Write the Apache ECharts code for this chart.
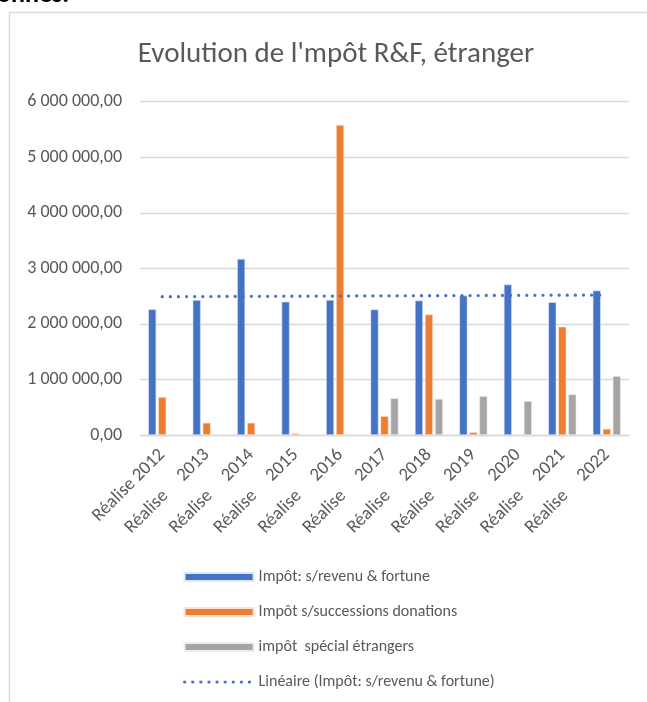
<!DOCTYPE html>
<html>
<head>
<meta charset="utf-8">
<script src="https://cdn.jsdelivr.net/npm/echarts@6/dist/echarts.min.js"></script>
<style>
html,body{margin:0;padding:0;background:#fff;}
#c{width:647px;height:702px;}
</style>
</head>
<body>
<div id="c"></div>
<script>
// ---- data ----
const categories = ['Réalise 2012','Réalise 2013','Réalise 2014','Réalise 2015','Réalise 2016','Réalise 2017','Réalise 2018','Réalise 2019','Réalise 2020','Réalise 2021','Réalise 2022'];
const seriesNames = ['Impôt: s/revenu & fortune','Impôt s/successions donations','impôt  spécial étrangers','Linéaire (Impôt: s/revenu & fortune)'];
const revenuFortune = [2263000, 2430000, 3170000, 2400000, 2430000, 2260000, 2420000, 2510000, 2710000, 2390000, 2600000];
const successionsDonations = [684000, 220000, 220000, 30000, 5580000, 340000, 2170000, 50000, 10000, 1950000, 110000];
const specialEtrangers = [null, null, null, null, null, 660000, 650000, 700000, 610000, 730000, 1060000];
const trendStart = 2490000;
const trendEnd = 2520000;
const yTicks = [0, 1000000, 2000000, 3000000, 4000000, 5000000, 6000000];

const trend = categories.map((c, i) => i === 0 ? trendStart : (i === categories.length - 1 ? trendEnd : null));

const FONT = 'Carlito, Lato, sans-serif';
const TXT = '#595959';
const DOTTED = {color: '#4472C4', width: 3.2, type: [0.1, 8], cap: 'round'};

function fmt(v) {
  const s = Math.round(v).toString().replace(/\B(?=(\d{3})+(?!\d))/g, ' ');
  return s + ',00';
}

const chart = echarts.init(document.getElementById('c'), null, {renderer: 'canvas'});
chart.setOption({
  backgroundColor: '#fff',
  animation: false,
  graphic: [
    {type: 'rect', shape: {x: 9.5, y: 12.5, width: 800, height: 900}, style: {fill: 'none', stroke: '#d9d9d9', lineWidth: 1.5}, silent: true},
    {type: 'text', x: -3, y: 8, style: {text: 'onnes.', font: 'bold 26px ' + FONT, fill: '#000', verticalAlign: 'bottom'}, silent: true}
  ],
  title: {
    text: "Evolution de l'mpôt R&F, étranger",
    left: 331, top: 35, textAlign: 'center',
    textStyle: {fontFamily: FONT, fontSize: 29, fontWeight: 'normal', color: TXT}
  },
  legend: {
    orient: 'vertical', left: 183, top: 569, padding: 0, itemWidth: 69, itemHeight: 8, itemGap: 19,
    textStyle: {fontFamily: FONT, fontSize: 16, color: TXT},
    data: [
      {name: seriesNames[0], icon: 'rect'},
      {name: seriesNames[1], icon: 'rect'},
      {name: seriesNames[2], icon: 'rect'},
      {name: seriesNames[3], itemStyle: {opacity: 0}, lineStyle: DOTTED}
    ]
  },
  grid: {left: 140, right: 18, top: 101.7, bottom: 267},
  xAxis: {
    type: 'category', data: categories,
    axisLine: {lineStyle: {color: '#d9d9d9', width: 1.3}},
    axisTick: {show: false},
    axisLabel: {
      interval: 0, rotate: 45, margin: 17, fontFamily: FONT, fontSize: 18.5, color: TXT,
      formatter: (v, i) => i === 0 ? v : v.replace(' ', '     ')
    }
  },
  yAxis: {
    type: 'value', min: yTicks[0], max: yTicks[yTicks.length - 1], interval: yTicks[1] - yTicks[0],
    axisLine: {show: false}, axisTick: {show: false},
    splitLine: {lineStyle: {color: '#d9d9d9', width: 1.3}},
    axisLabel: {margin: 18, fontFamily: FONT, fontSize: 18, color: TXT, formatter: fmt}
  },
  series: [
    {name: seriesNames[0], type: 'bar', data: revenuFortune, barWidth: 8, barGap: '25%',
     itemStyle: {color: '#4472C4', borderColor: '#dfe6f3', borderWidth: 0.6}},
    {name: seriesNames[1], type: 'bar', data: successionsDonations, barWidth: 8, barGap: '25%',
     itemStyle: {color: '#ED7D31', borderColor: '#fbe3d3', borderWidth: 0.6}},
    {name: seriesNames[2], type: 'bar', data: specialEtrangers, barWidth: 8, barGap: '25%',
     itemStyle: {color: '#A5A5A5', borderColor: '#ececec', borderWidth: 0.6}},
    {name: seriesNames[3], type: 'line', data: trend, connectNulls: true, symbol: 'none',
     itemStyle: {color: '#4472C4'},
     lineStyle: DOTTED}
  ]
});
</script>
</body>
</html>
